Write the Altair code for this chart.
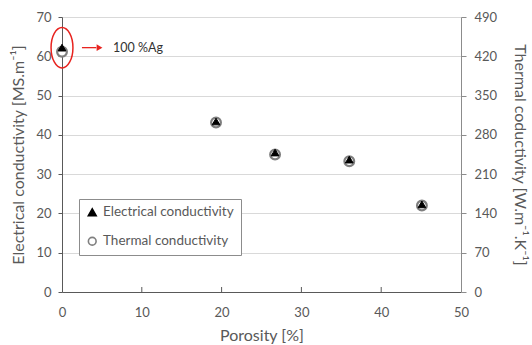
import altair as alt
import pandas as pd

# ---- data ----
porosity = [0, 19.3, 26.7, 36.0, 45.1]
electrical = [62.2, 43.4, 35.5, 33.7, 22.3]
thermal = [428, 302, 245, 233, 154]
series_names = ["Electrical conductivity", "Thermal conductivity"]

x_ticks = [0, 10, 20, 30, 40, 50]
inner_ticks = [10, 20, 30, 40]
y_left_ticks = [0, 10, 20, 30, 40, 50, 60, 70]
y_right_ticks = [0, 70, 140, 210, 280, 350, 420, 490]

# annotation ("100 %Ag" near the pure silver point)
ann_point_x = [0]
ann_point_y = [62.2]
arrow_x = [2.5]
arrow_x2 = [4.3]
arrow_head_x = [4.7]
ann_text_x = [6.4]
ann_text = ["100 %Ag"]

FONT = "Lato"
GREY = "#595959"

df_e = pd.DataFrame({"x": porosity, "y": electrical, "series": series_names[0]})
df_t = pd.DataFrame({"x": porosity, "y": thermal, "series": series_names[1]})

x_scale = alt.Scale(domain=[0, 50], nice=False, zero=False)
yl_scale = alt.Scale(domain=[0, 70], nice=False)
yr_scale = alt.Scale(domain=[0, 490], nice=False)

legend_def = alt.Legend(title=None, direction="vertical", columns=1, gridAlign="none", columnPadding=0)
shape_enc = alt.Shape("series:N", scale=alt.Scale(domain=series_names, range=["triangle-up", "circle"]),
                      legend=legend_def)
fill_enc = alt.Fill("series:N", scale=alt.Scale(domain=series_names, range=["#000000", "#ffffff"]),
                    legend=legend_def)
stroke_enc = alt.Stroke("series:N", scale=alt.Scale(domain=series_names, range=["#000000", "#7f7f7f"]),
                        legend=legend_def)

x_axis = alt.Axis(title="Porosity [%]", values=x_ticks, grid=False, ticks=False, labelOverlap=False,
                  labelFlush=False, domainColor=GREY, labelPadding=14, titlePadding=8)
yl_axis = alt.Axis(orient="left", title="Electrical conductivity [MS.m⁻¹]", values=y_left_ticks,
                   labelOverlap=False, labelFlush=False, grid=True, gridColor="#d9d9d9",
                   domainColor=GREY, tickColor=GREY, tickSize=4, labelPadding=7, titlePadding=9)
yr_axis = alt.Axis(orient="right", title="Thermal coductivity [W.m⁻¹.K⁻¹]", values=y_right_ticks,
                   labelOverlap=False, labelFlush=False, grid=False, domainColor="#8c8c8c",
                   tickColor="#8c8c8c", tickSize=5, labelPadding=8, titlePadding=15)


def xe(field):
    return alt.X(field, type="quantitative", scale=x_scale, axis=x_axis)


def yle(field):
    return alt.Y(field, type="quantitative", scale=yl_scale, axis=yl_axis)


thermal_layer = alt.Chart(df_t).mark_point(size=95, strokeWidth=2.2, opacity=1).encode(
    x=xe("x"),
    y=alt.Y("y:Q", scale=yr_scale, axis=yr_axis),
    shape=shape_enc, fill=fill_enc, stroke=stroke_enc,
)

elec_layer = alt.Chart(df_e).mark_point(size=60, strokeWidth=1, opacity=1).encode(
    x=xe("x"), y=yle("y"),
    shape=shape_enc, fill=fill_enc, stroke=stroke_enc,
)

df_ann = pd.DataFrame({"x": ann_point_x, "y": ann_point_y, "ax": arrow_x, "ax2": arrow_x2,
                       "hx": arrow_head_x, "tx": ann_text_x, "label": ann_text})

ellipse = alt.Chart(df_ann).mark_point(
    shape="M-0.54,0A0.54,1 0 1,0 0.54,0A0.54,1 0 1,0 -0.54,0Z",
    size=1640, stroke="#e8231f", strokeWidth=1.5, filled=False, opacity=1,
).encode(x=xe("x"), y=yle("y"))

arrow_line = alt.Chart(df_ann).mark_rule(color="#e8231f", strokeWidth=1.3).encode(
    x=xe("ax"), x2="ax2:Q", y=yle("y"))

arrow_head = alt.Chart(df_ann).mark_point(shape="triangle-right", size=45, filled=True,
                                          color="#e8231f", opacity=1).encode(
    x=xe("hx"), y=yle("y"))

ann_label = alt.Chart(df_ann).mark_text(align="left", baseline="middle", font=FONT, fontSize=12.5,
                                        color="#333333").encode(
    x=xe("tx"), y=yle("y"), text="label:N")

df_ticks = pd.DataFrame({"x": inner_ticks})
x_inner_ticks = alt.Chart(df_ticks).mark_rule(color=GREY, strokeWidth=1).encode(
    x=xe("x"), y=alt.value(275), y2=alt.value(270))

left_group = alt.layer(elec_layer, x_inner_ticks, ellipse, arrow_line, arrow_head, ann_label)

chart = alt.layer(thermal_layer, left_group).resolve_scale(y="independent").properties(
    width=399, height=275,
    autosize=alt.AutoSizeParams(type="none"),
    padding={"left": 62, "top": 17, "right": 71, "bottom": 53},
).configure_view(stroke=None).configure_axis(
    labelFont=FONT, labelFontSize=13, labelColor=GREY,
    titleFont=FONT, titleFontSize=16, titleColor=GREY, titleFontWeight="normal",
).configure_legend(
    orient="none", legendX=17, legendY=182,
    strokeColor="#8c8c8c", fillColor="#ffffff", padding=6.5, rowPadding=14,
    labelFont=FONT, labelFontSize=13.5, labelColor=GREY, labelOffset=4,
    symbolSize=60, symbolStrokeWidth=1.6,
)

chart.save("out.html", embed_options={"renderer": "svg", "actions": False})
